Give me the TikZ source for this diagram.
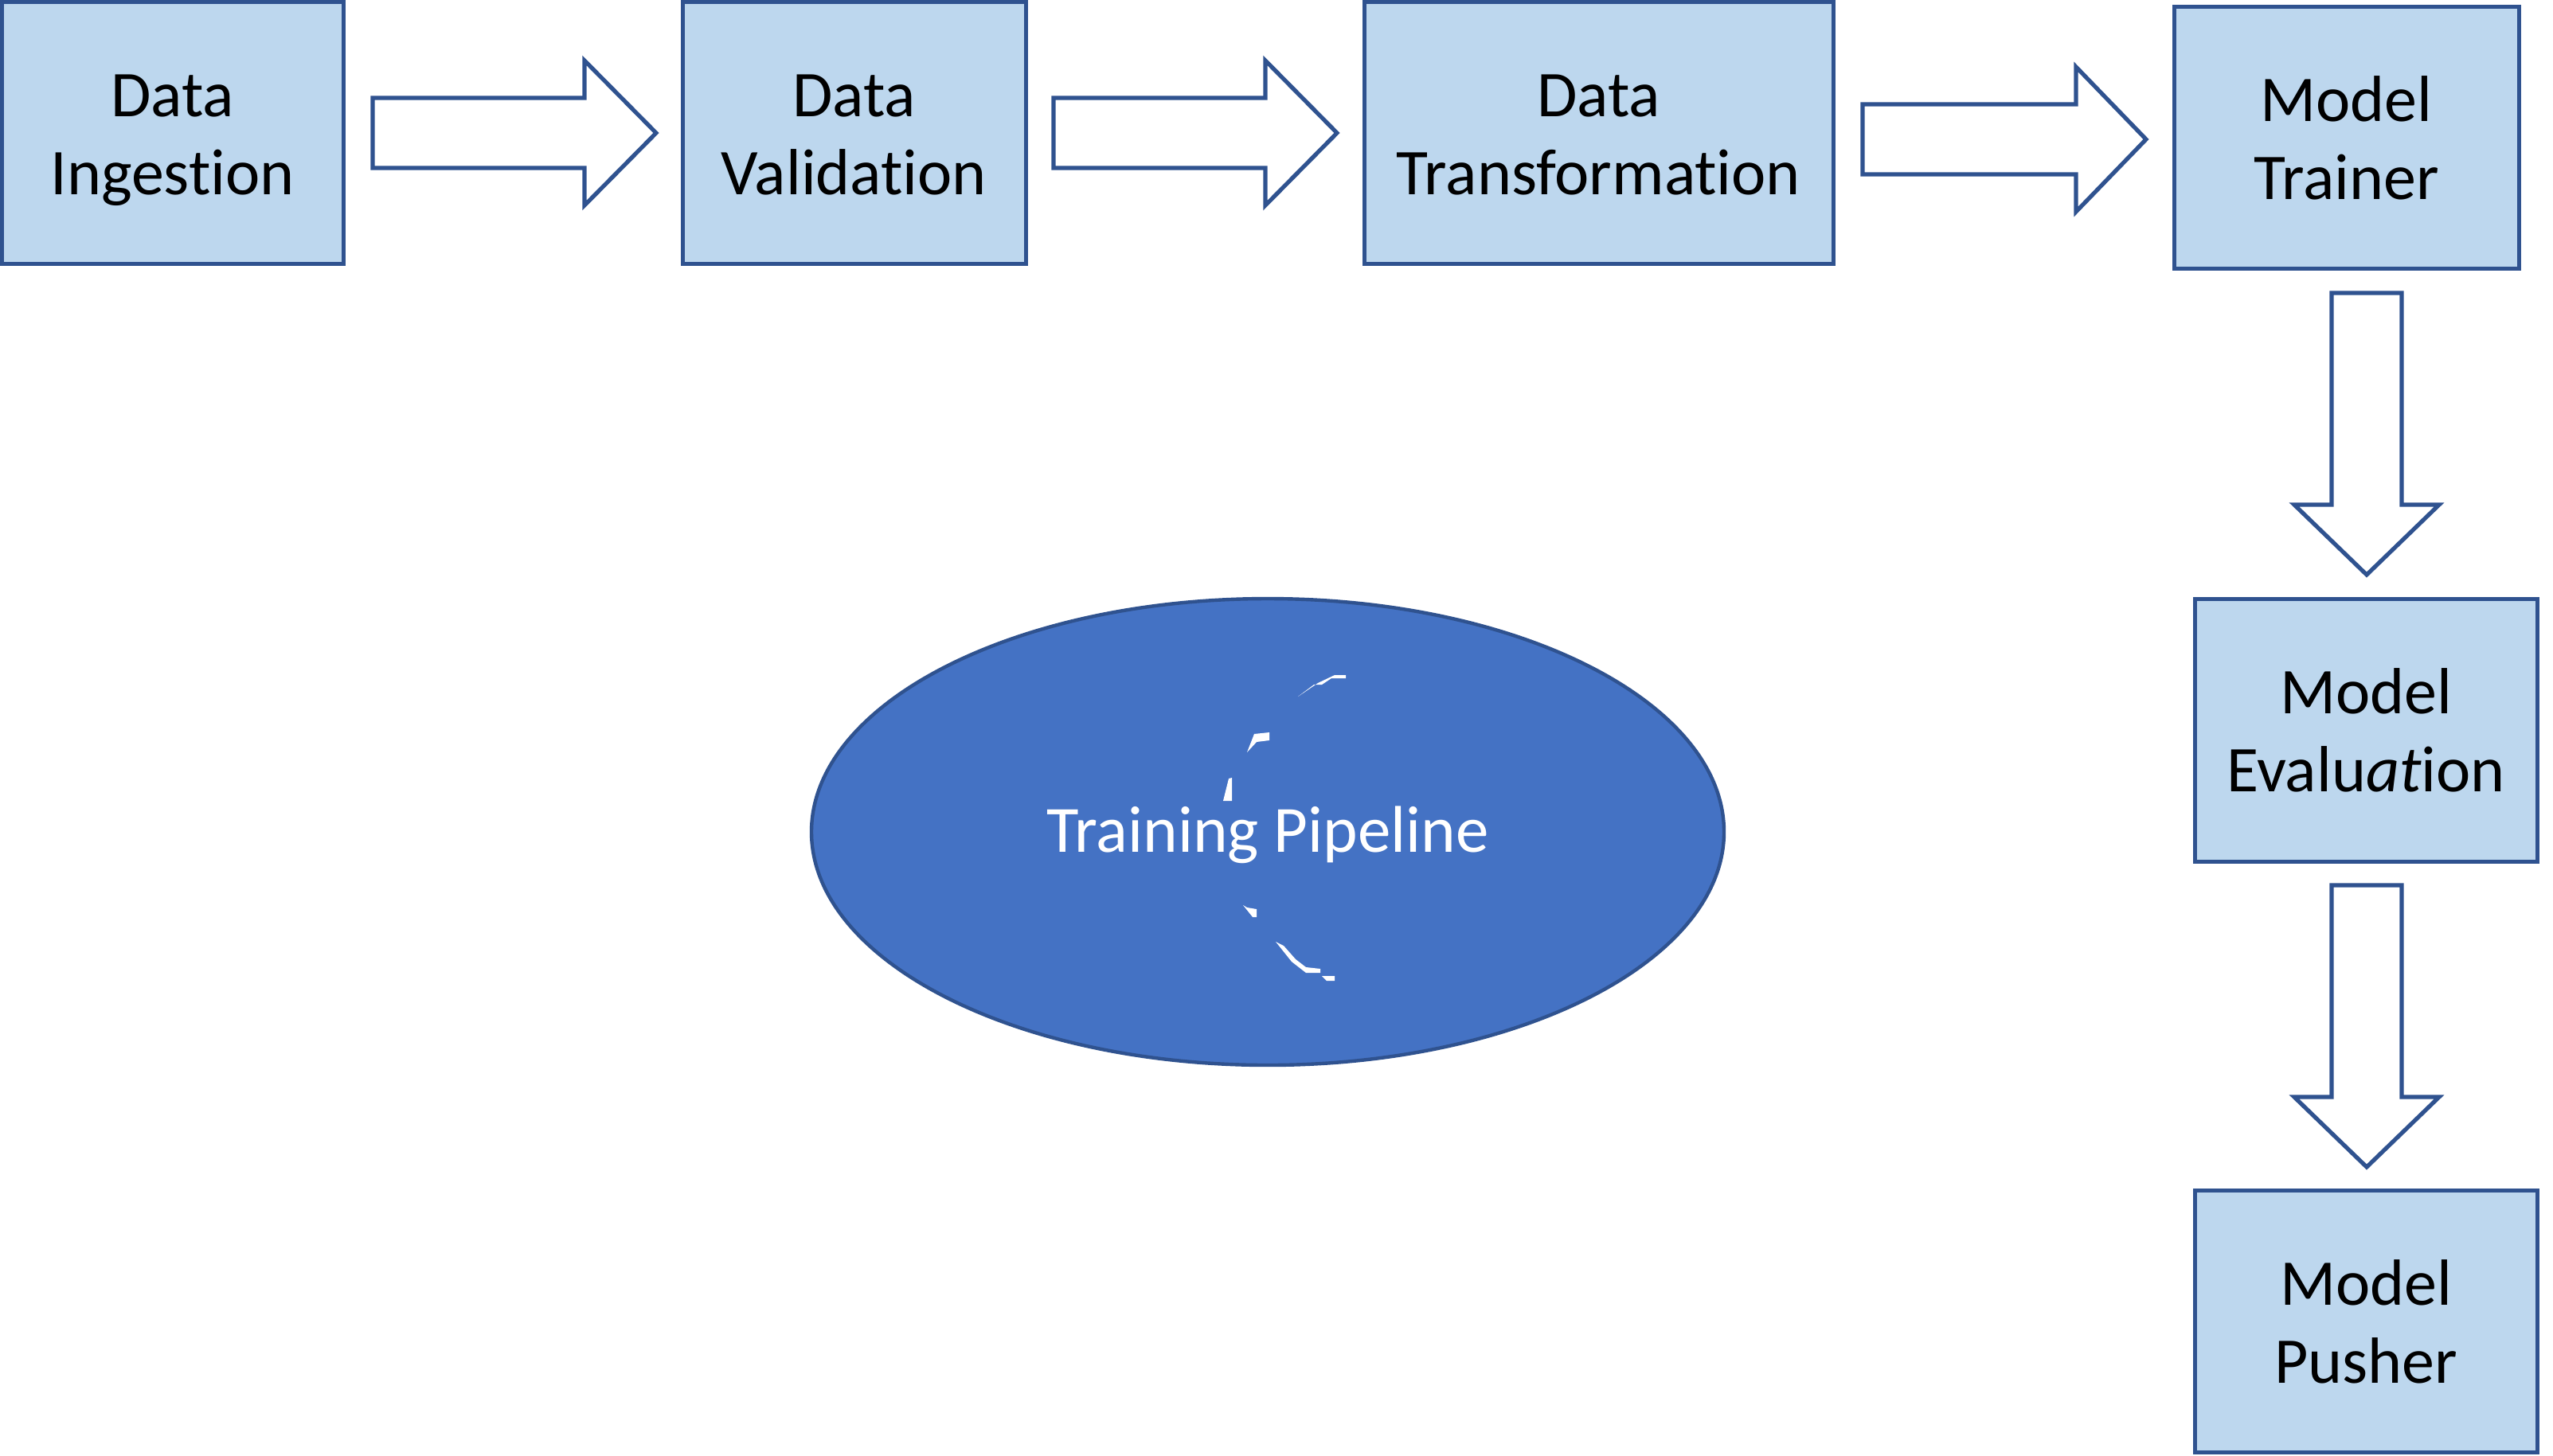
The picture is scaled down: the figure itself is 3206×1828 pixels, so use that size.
\documentclass[tikz,border=0pt]{standalone}
\usepackage{fontspec}
\setmainfont{Carlito}[Ligatures={NoCommon}]
\usetikzlibrary{shapes.geometric}
\definecolor{boxfill}{HTML}{BDD7EE}
\definecolor{edge}{HTML}{2F528F}
\definecolor{ellfill}{HTML}{4472C4}
\tikzset{
  stage/.style={draw=edge, fill=boxfill, line width=2.5pt, inner sep=0pt},
  stagetext/.style={align=center, inner sep=0pt, yshift=-4.5pt,
    font=\fontsize{41pt}{49pt}\selectfont, text=black},
  blockarrow/.style={draw=edge, fill=white, line width=2.6pt, line join=miter},
  whitebit/.style={fill=white, draw=none}
}
\begin{document}
\begin{tikzpicture}[x=0.5pt,y=-0.5pt]
\useasboundingbox (0,0) rectangle (3206,1828);
% stages
\node[stage, minimum width=214.5pt, minimum height=164.5pt] (ing) at (216.5,166.5) {};
\node[stage, minimum width=215.5pt, minimum height=164.5pt] (val) at (1072.5,166.5) {};
\node[stage, minimum width=294.5pt, minimum height=164.5pt] (tra) at (2007.5,166.5) {};
\node[stage, minimum width=216.5pt, minimum height=164.5pt] (trn) at (2946.5,172.5) {};
\node[stage, minimum width=215pt, minimum height=165pt] (eva) at (2971,917) {};
\node[stage, minimum width=215pt, minimum height=164.5pt] (pus) at (2971,1659.5) {};
\node[stagetext] (ingt) at (ing.center) {Data\strut\\Ingestion\strut};
\node[stagetext] (valt) at (val.center) {Data\strut\\Validation\strut};
\node[stagetext] (trat) at (tra.center) {Data\strut\\Transformation\strut};
\node[stagetext] (trnt) at (trn.center) {Model\strut\\Trainer\strut};
\node[stagetext] (evat) at (eva.center) {Model\strut\\Evalu\textit{at}ion\strut};
\node[stagetext] (pust) at (pus.center) {Model\strut\\Pusher\strut};
% block arrows
\draw[blockarrow] (468,123) -- (734,123) -- (734,76) -- (824,167) -- (734,258) -- (734,211) -- (468,211) -- cycle;
\draw[blockarrow] (1323,123) -- (1589,123) -- (1589,76) -- (1679,167) -- (1589,258) -- (1589,211) -- (1323,211) -- cycle;
\draw[blockarrow] (2339,131) -- (2607,131) -- (2607,84) -- (2695,175) -- (2607,266) -- (2607,219) -- (2339,219) -- cycle;
\draw[blockarrow] (2928,368) -- (3016,368) -- (3016,634) -- (3063,634) -- (2972,722) -- (2881,634) -- (2928,634) -- cycle;
\draw[blockarrow] (2928,1112) -- (3016,1112) -- (3016,1378) -- (3063,1378) -- (2972,1466) -- (2881,1378) -- (2928,1378) -- cycle;
% ellipse
\node[ellipse, draw=edge, fill=ellfill, line width=2.2pt, minimum width=573pt, minimum height=293pt, inner sep=0pt] (pipe) at (1592,1045) {};
\node[text=white, inner sep=0pt, font=\fontsize{41.5pt}{49pt}\selectfont, yshift=-2pt] (pipet) at (pipe.center) {Training Pipeline};
% white fragments
\fill[whitebit] (1630,875) -- (1650,860) -- (1660,860) -- (1672,852) -- (1690,852) -- (1690,848) -- (1676,848) -- (1655,858) -- cycle;
\fill[whitebit] (1566,945) -- (1575,922) -- (1594,920) -- (1594,930) -- (1578,932) -- cycle;
\fill[whitebit] (1536,1006) -- (1543,978) -- (1547,977) -- (1547,1006) -- cycle;
\fill[whitebit] (1561,1137) -- (1566,1140) -- (1578,1142) -- (1578,1152) -- (1573,1152) -- cycle;
\fill[whitebit] (1602,1183) -- (1612,1188) -- (1627,1205) -- (1640,1215) -- (1658,1217) -- (1658,1222) -- (1640,1222) -- (1622,1208) -- cycle;
\fill[whitebit] (1660,1226) -- (1676,1226) -- (1676,1232) -- (1666,1232) -- cycle;
\end{tikzpicture}
\end{document}
